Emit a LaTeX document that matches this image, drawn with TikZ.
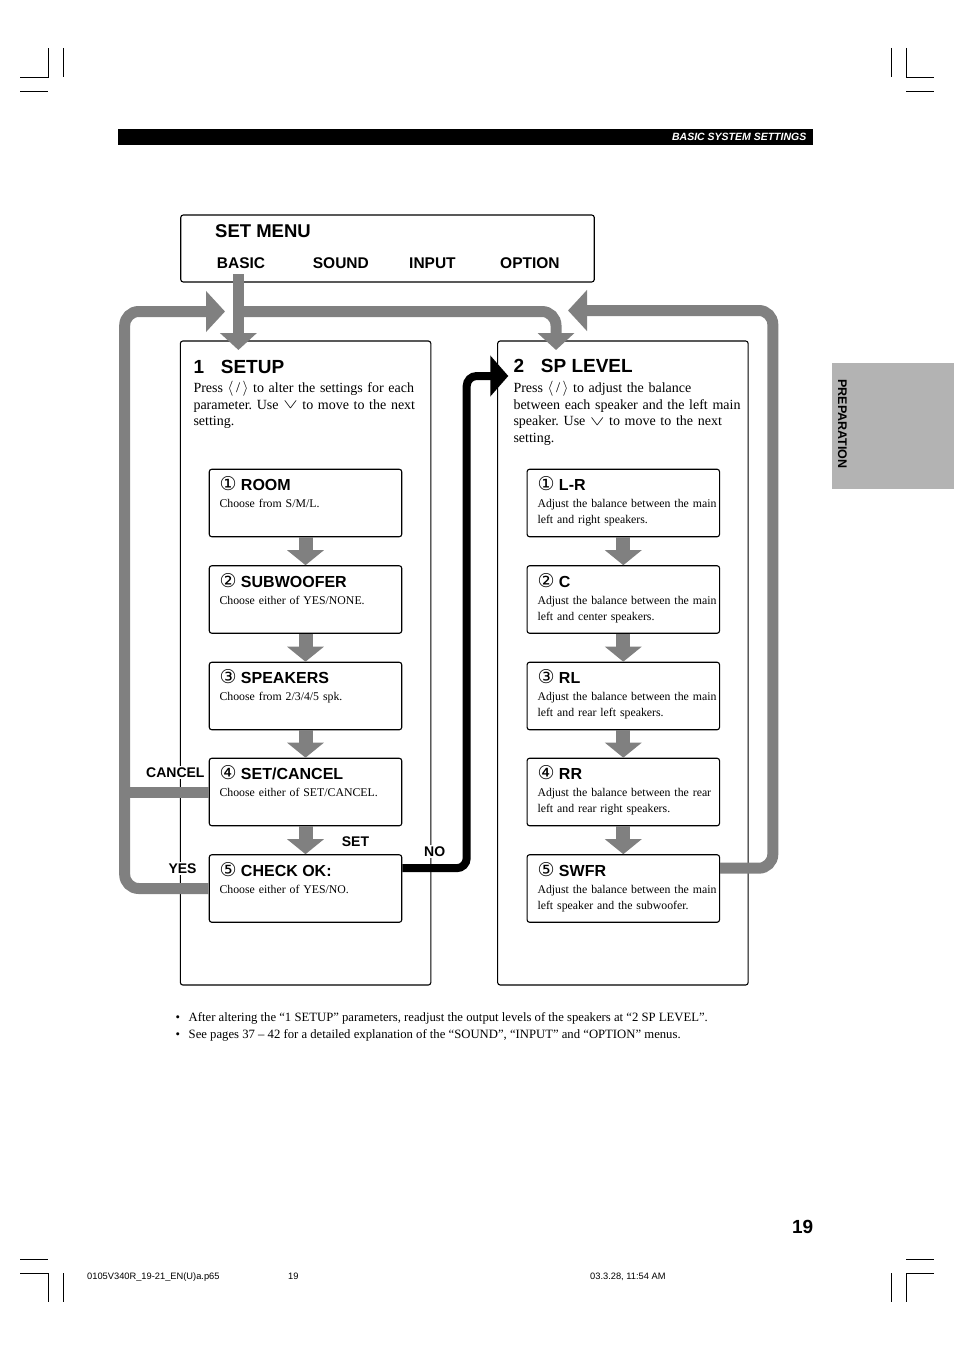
\documentclass[tikz,border=0pt]{standalone}
\usepackage{fontspec}
\setmainfont{Liberation Serif}
\setsansfont{Liberation Sans}
\newfontfamily\circfont{DejaVu Sans}
\usetikzlibrary{arrows.meta, calc, positioning}
\definecolor{flowgrey}{HTML}{808080}
\definecolor{tabgrey}{HTML}{B3B3B3}
\frenchspacing
\newcommand{\fs}[2]{\fontsize{#1}{#2}\selectfont}
\newcommand{\cnum}[1]{{\circfont\mdseries\fs{19}{20}#1}}
\newcommand{\leftright}{\raisebox{0.2pt}{\scalebox{1.05}{$\langle$\,/\,$\rangle$}}}
\newcommand{\downkey}{\raisebox{0.3pt}{\scalebox{1.5}[0.9]{$\vee$}}}

\begin{document}
\begin{tikzpicture}[x=1pt, y=-1pt]
        \tikzstyle{frame} = [draw=black, line width=1.1pt, rounded corners=2.5pt, inner sep=0pt]
        \tikzstyle{menubox} = [frame, minimum width=413.5pt, minimum height=67pt]
        \tikzstyle{panel} = [frame, minimum width=250.5pt, minimum height=644pt]
        \tikzstyle{item} = [frame, minimum width=192.5pt, minimum height=67.5pt]
        \tikzstyle{txt} = [anchor=base west, inner sep=0pt]
        \tikzstyle{head} = [txt, font=\sffamily\bfseries\fs{19}{22}]
        \tikzstyle{menuitem} = [txt, font=\sffamily\bfseries\fs{15.5}{18}]
        \tikzstyle{title} = [txt, font=\sffamily\bfseries\fs{16}{19}]
        \tikzstyle{body} = [txt, font=\fs{14}{16.6}, text width=245pt, align=left]
        \tikzstyle{desc} = [txt, font=\fs{11.8}{16}, text width=188pt, align=left]
        \tikzstyle{flag} = [anchor=base west, font=\sffamily\bfseries\fs{14}{16}, fill=white, inner sep=1.5pt]
        \tikzstyle{note} = [txt, font=\fs{12.7}{14}]
        \tikzstyle{grey} = [draw=flowgrey, line width=11pt, rounded corners=14pt]
        \tikzstyle{down} = [draw=flowgrey, line width=14pt, -{Triangle[width=36pt, length=15pt]}]
        \tikzstyle{loop} = [grey, -{Triangle[width=40pt, length=19pt]}]
        \tikzstyle{back} = [draw=black, line width=8pt, rounded corners=10pt, -{Triangle[width=40pt, length=18pt]}]
        \tikzstyle{crop} = [line width=0.6pt]
        \useasboundingbox (0, 0) rectangle (954, 1351);
        % crop marks
        \draw[crop] (20, 77) -- (48, 77) -- (48, 48) (63, 48) -- (63, 77) (20, 91) -- (48, 91);
        \draw[crop] (891, 48) -- (891, 77) (906, 48) -- (906, 77) -- (934, 77) (906, 91) -- (934, 91);
        \draw[crop] (20, 1259) -- (48, 1259) (20, 1273) -- (48, 1273) -- (48, 1302) (63, 1273) -- (63, 1302);
        \draw[crop] (906, 1259) -- (934, 1259) (934, 1273) -- (906, 1273) -- (906, 1302) (891, 1273) -- (891, 1302);
        % header and tab
        \fill (118, 129) rectangle (813.3, 145);
        \node [anchor=base east, inner sep=0pt, text=white, font=\sffamily\bfseries\itshape\fs{10.5}{12}] (section) at (806.5, 140.8) {BASIC SYSTEM SETTINGS};
        \fill[tabgrey] (831.7, 362.7) rectangle (954, 489.3);
        \node [rotate=-90, inner sep=0pt, font=\sffamily\bfseries\fs{12.5}{14}] (tab) at (842.5, 424) {PREPARATION};
        % set menu
        \node [menubox] (menu) at (387.5, 248.5) {};
        \node [txt, font=\sffamily\bfseries\fs{18.5}{22}] (menutitle) at (215, 237.7) {SET MENU};
        \node [menuitem] (basic) at (216.7, 268.3) {BASIC};
        \node [menuitem] (sound) at (312.7, 268.3) {SOUND};
        \node [menuitem] (input) at (409, 268.3) {INPUT};
        \node [menuitem] (option) at (500, 268.3) {OPTION};
        % panels
        \node [panel] (setup) at (305.6, 663) {};
        \node [panel] (level) at (622.9, 663) {};
        \node [head] (setupno) at (193.3, 373.3) {1};
        \node [head] (setuphead) at (220.7, 373.3) {SETUP};
        \node [head] (levelno) at (513.3, 372.8) {2};
        \node [head] (levelhead) at (540.7, 372.8) {SP LEVEL};
        \node [body] (setupbody) at (193.3, 392.6) {Press \leftright{} to alter the settings for each\\parameter. Use \downkey{} to move to the next\\setting.};
        \node [body] (levelbody) at (513.3, 392.6) {Press \leftright{} to adjust the balance\\between each speaker and the left main\\speaker. Use \downkey{} to move to the next\\setting.};
        % setup items
        \node [item] (s1) at (305.5, 503) {};
        \node [item] (s2) at (305.5, 599.5) {};
        \node [item] (s3) at (305.5, 696) {};
        \node [item] (s4) at (305.5, 792) {};
        \node [item] (s5) at (305.5, 888.5) {};
        \node [title] (s1t) at (219.3, 490.6) {\cnum{①} ROOM};
        \node [desc] (s1d) at (219.3, 507.7) {Choose from S/M/L.};
        \node [title] (s2t) at (219.3, 587.1) {\cnum{②} SUBWOOFER};
        \node [desc] (s2d) at (219.3, 604.2) {Choose either of YES/NONE.};
        \node [title] (s3t) at (219.3, 683.6) {\cnum{③} SPEAKERS};
        \node [desc] (s3d) at (219.3, 700.7) {Choose from 2/3/4/5 spk.};
        \node [title] (s4t) at (219.3, 779.6) {\cnum{④} SET/CANCEL};
        \node [desc] (s4d) at (219.3, 796.7) {Choose either of SET/CANCEL.};
        \node [title] (s5t) at (219.3, 876.1) {\cnum{⑤} CHECK OK:};
        \node [desc] (s5d) at (219.3, 893.2) {Choose either of YES/NO.};
        % sp level items
        \node [item] (p1) at (623.3, 503) {};
        \node [item] (p2) at (623.3, 599.5) {};
        \node [item] (p3) at (623.3, 696) {};
        \node [item] (p4) at (623.3, 792) {};
        \node [item] (p5) at (623.3, 888.5) {};
        \node [title] (p1t) at (537.3, 490.6) {\cnum{①} L-R};
        \node [desc] (p1d) at (537.3, 507.7) {Adjust the balance between the main\\left and right speakers.};
        \node [title] (p2t) at (537.3, 587.1) {\cnum{②} C};
        \node [desc] (p2d) at (537.3, 604.2) {Adjust the balance between the main\\left and center speakers.};
        \node [title] (p3t) at (537.3, 683.6) {\cnum{③} RL};
        \node [desc] (p3d) at (537.3, 700.7) {Adjust the balance between the main\\left and rear left speakers.};
        \node [title] (p4t) at (537.3, 779.6) {\cnum{④} RR};
        \node [desc] (p4d) at (537.3, 796.7) {Adjust the balance between the rear\\left and rear right speakers.};
        \node [title] (p5t) at (537.3, 876.1) {\cnum{⑤} SWFR};
        \node [desc] (p5d) at (537.3, 893.2) {Adjust the balance between the main\\left speaker and the subwoofer.};
        % arrows
        \coordinate (out1) at (238.4, 274);
        \coordinate (split) at (238.4, 311.5);
        \coordinate (in1) at (238.4, 350);
        \coordinate (in2) at (556, 350);
        \coordinate (lcorner) at (124.7, 311.5);
        \coordinate (in0) at (225, 311.5);
        \coordinate (rcorner) at (772.8, 310.5);
        \coordinate (in3) at (568, 310.5);
        \coordinate (ncorner) at (466.7, 376);
        \coordinate (in4) at (508.3, 376);
        \draw[grey, line width=11pt, -{Triangle[width=36pt, length=17pt]}] (out1) -- (in1);
        \draw[grey, -{Triangle[width=36pt, length=17pt]}] (split) -| (in2);
        \draw[loop] (s5.west) -| (lcorner) -- (in0);
        \draw[grey, rounded corners=0pt] (s4.west) -- (s4.west -| lcorner);
        \draw[loop] ([yshift=-14pt]p5.north east) -| (rcorner) -- (in3);
        \draw[back] ([yshift=-14pt]s5.north east) -| (ncorner) -- (in4);
        \draw[down] (s1.south) to (s2.north);
        \draw[down] (s2.south) to (s3.north);
        \draw[down] (s3.south) to (s4.north);
        \draw[down] (s4.south) to (s5.north);
        \draw[down] (p1.south) to (p2.north);
        \draw[down] (p2.south) to (p3.north);
        \draw[down] (p3.south) to (p4.north);
        \draw[down] (p4.south) to (p5.north);
        \node [flag] (cancel) at (144.5, 777.7) {CANCEL};
        \node [flag] (yes) at (166.8, 873.3) {YES};
        \node [flag] (set) at (340.2, 846) {SET};
        \node [flag] (no) at (422.5, 856) {NO};
        % notes and footer
        \node [note] (b1) at (175.5, 1021) {\textbullet};
        \node [note] (n1) at (188.5, 1021) {After altering the “1 SETUP” parameters, readjust the output levels of the speakers at “2 SP LEVEL”.};
        \node [note] (b2) at (175.5, 1038.5) {\textbullet};
        \node [note] (n2) at (188.5, 1038.5) {See pages 37 – 42 for a detailed explanation of the “SOUND”, “INPUT” and “OPTION” menus.};
        \node [anchor=base east, inner sep=0pt, font=\sffamily\bfseries\fs{19}{22}] (page) at (813.5, 1233) {19};
        \node [txt, font=\sffamily\fs{9.3}{11}] (file) at (87, 1279.5) {0105V340R\_19-21\_EN(U)a.p65};
        \node [txt, font=\sffamily\fs{9.3}{11}] (sheet) at (288, 1279.5) {19};
        \node [txt, font=\sffamily\fs{9.3}{11}] (date) at (590, 1279.5) {03.3.28, 11:54 AM};
    \end{tikzpicture}
\end{document}
